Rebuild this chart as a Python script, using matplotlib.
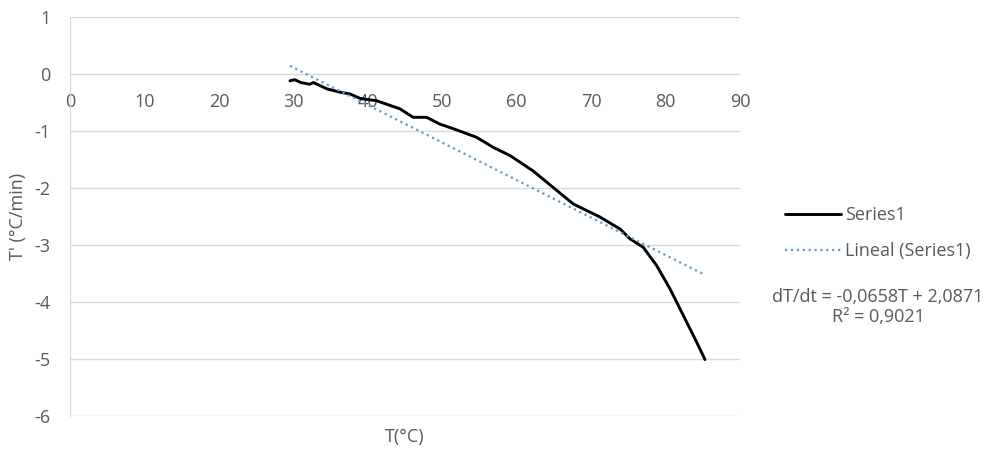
import matplotlib
matplotlib.use("Agg")
from matplotlib import pyplot as plt
import numpy as np

plt.rcParams['font.family'] = ['Open Sans', 'DejaVu Sans']
plt.rcParams['axes.unicode_minus'] = False

# data
temp = [29.55, 30.2, 31.0, 32.2, 32.7, 34.5, 36.3, 37.6, 39.0, 41.2, 44.3, 46.1,
        47.9, 49.7, 51.5, 54.6, 56.9, 59.1, 62.2, 64.9, 67.6, 71.2, 73.9, 75.2,
        77.0, 78.8, 80.6, 82.4, 84.2, 85.3]
rate = [-0.12, -0.10, -0.15, -0.18, -0.15, -0.26, -0.32, -0.35, -0.43, -0.47, -0.61, -0.76,
        -0.76, -0.88, -0.96, -1.11, -1.29, -1.43, -1.70, -1.99, -2.28, -2.51, -2.72, -2.89,
        -3.04, -3.36, -3.77, -4.24, -4.71, -5.01]

slope = -0.0658
intercept = 2.0871
r2 = 0.9021

xticks = list(range(0, 91, 10))
yticks = list(range(-6, 2))

grid_col = '#d9d9d9'
text_col = '#595959'
fs = 13

fig = plt.figure(figsize=(9.91, 4.5), dpi=100)
ax = fig.add_axes([70/991, 1 - 416/450, 670/991, 399/450])

for y in yticks:
    ax.axhline(y, color=grid_col, lw=1, zorder=0)

line1, = ax.plot(temp, rate, color='black', lw=2.1, label='Series1', zorder=3,
                 solid_joinstyle='round', solid_capstyle='round')

tx = np.array([min(temp), max(temp)])
line2, = ax.plot(tx, slope*tx + intercept, color='#5b9bd5', lw=1.6, ls=':',
                 label='Lineal (Series1)', zorder=4)

ax.set_xlim(0, 90)
ax.set_ylim(-6, 1)
ax.set_xticks(xticks)
ax.set_yticks(yticks)

ax.spines['top'].set_visible(False)
ax.spines['right'].set_visible(False)
ax.spines['bottom'].set_position(('data', 0))
ax.spines['bottom'].set_color(grid_col)
ax.spines['left'].set_color(grid_col)
ax.tick_params(axis='both', length=0, labelsize=fs, labelcolor=text_col)
ax.tick_params(axis='x', pad=14)
ax.tick_params(axis='y', pad=14)

ax.set_xlabel('T(°C)', fontsize=fs, color=text_col)
ax.xaxis.set_label_coords(0.5, -0.03)
ax.set_ylabel("T' (°C/min)", fontsize=fs, color=text_col)
ax.yaxis.set_label_coords(-0.064, 0.5)

fig.legend(handles=[line1, line2], loc='upper left', bbox_to_anchor=(776/991, 1 - 197/450),
           frameon=False, fontsize=fs, handlelength=3.1, handletextpad=0.2,
           labelspacing=1.0, labelcolor=text_col, borderpad=0)

fig.text(878/991, 1 - 307/450,
         'dT/dt = {:.4f}T + {:.4f}\nR² = {:.4f}'.format(slope, intercept, r2).replace('.', ','),
         ha='center', va='center', fontsize=fs, color=text_col, linespacing=1.1)

fig.savefig('out.png', dpi=100)
